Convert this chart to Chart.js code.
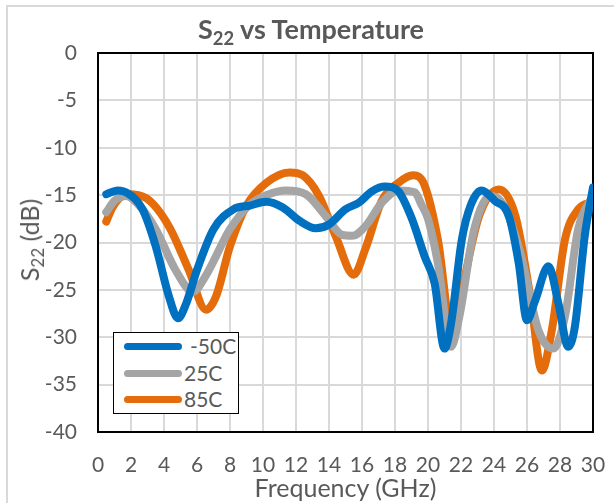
<!DOCTYPE html>
<html>
<head>
<meta charset="utf-8">
<script src="https://cdn.jsdelivr.net/npm/chart.js@4.4.1/dist/chart.umd.min.js"></script>
<style>
  html, body { margin: 0; padding: 0; background: #fff; overflow: hidden; }
  #wrap { position: relative; width: 614px; height: 503px; overflow: hidden; font-family: Lato, "Open Sans", sans-serif; color: #595959; }
  #frame { position: absolute; left: 6px; top: 5px; width: 800px; height: 800px; border: 2px solid #D9D9D9; box-sizing: border-box; }
  canvas { position: absolute; left: 0; top: 0; }
  #title { position: absolute; left: 4px; width: 614px; top: 13px; text-align: center; font-weight: bold; font-size: 27px; line-height: 32px; }
  #title sub, #ytitle sub { font-size: 0.68em; vertical-align: -0.3em; line-height: 0; }
  #xtitle { position: absolute; left: 98px; width: 495px; top: 473px; text-align: center; font-size: 25px; line-height: 28px; }
  #ytitle { position: absolute; left: 29px; top: 240px; transform: translate(-50%, -50%) rotate(-90deg); white-space: nowrap; font-size: 25px; line-height: 28px; }
  #legend { position: absolute; left: 113px; top: 332px; width: 126px; height: 82px; border: 1.5px solid #000; box-sizing: border-box; background: #fff; }
  .item { position: absolute; left: 0; height: 26px; width: 124px; }
  .swatch { position: absolute; left: 10px; top: 10px; width: 58px; height: 7px; border-radius: 4px; }
  .lab { position: absolute; top: 0; font-size: 21px; line-height: 26px; }
</style>
</head>
<body>
<div id="wrap">
  <div id="frame"></div>
  <canvas id="c" width="614" height="503"></canvas>
  <div id="title">S<sub>22</sub> vs Temperature</div>
  <div id="ytitle">S<sub>22</sub> (dB)</div>
  <div id="xtitle">Frequency (GHz)</div>
  <div id="legend"></div>
</div>
<script>
// ---- data ----
const seriesNames = ["-50C", "25C", "85C"];
const seriesColors = ["#0070C0", "#A5A5A5", "#E46C0A"];

const freqM50 = [0.5, 1.2, 1.8, 2.7, 3.5, 4.3, 4.85, 5.35, 6.0, 7.0, 8.2, 9.2, 10.2, 11.2, 12.2, 13.2, 14.0, 15.0, 15.8, 16.6, 17.4, 18.2, 19.0, 19.8, 20.4, 21.0, 21.4, 22.05, 22.6, 23.25, 24.05, 24.9, 25.5, 26.0, 26.5, 27.3, 27.9, 28.5, 28.9, 29.5, 30.0];
const s22M50  = [-14.9, -14.5, -14.8, -16.5, -20.4, -25.7, -28.0, -26.4, -22.9, -18.6, -16.5, -16.1, -15.7, -16.3, -17.7, -18.5, -18.1, -16.5, -15.8, -14.6, -14.1, -14.6, -17.4, -21.5, -24.3, -31.2, -28.5, -19.7, -16.0, -14.5, -15.6, -17.2, -22.2, -28.2, -26.1, -22.5, -26.4, -31.0, -28.9, -19.3, -14.2];

const freq25 = [0.5, 1.0, 1.7, 2.6, 3.5, 4.7, 5.75, 6.5, 8.0, 9.2, 10.2, 11.4, 12.6, 13.8, 14.8, 15.4, 16.2, 17.2, 18.2, 19.2, 19.6, 20.0, 20.6, 21.4, 21.9, 22.8, 23.8, 24.6, 25.6, 26.7, 27.6, 28.3, 29.1, 30.0];
const s22At25 = [-16.8, -15.6, -15.1, -16.3, -18.6, -22.9, -25.2, -23.6, -18.6, -16.0, -15.0, -14.5, -14.9, -17.2, -19.2, -19.3, -18.3, -15.8, -14.5, -14.7, -16.0, -17.5, -22.2, -31.0, -27.8, -18.6, -15.1, -16.1, -21.1, -29.3, -31.2, -27.8, -18.6, -15.0];

const freq85 = [0.5, 0.85, 1.3, 1.8, 2.9, 4.3, 5.5, 6.55, 7.15, 8.0, 9.0, 10.2, 11.6, 12.4, 13.4, 14.4, 15.5, 16.2, 17.2, 18.2, 19.1, 19.8, 20.6, 21.5, 22.2, 23.1, 24.3, 25.3, 26.2, 26.9, 27.5, 28.3, 29.1, 30.0];
const s22At85 = [-17.8, -16.4, -15.3, -14.9, -15.3, -18.3, -22.9, -27.1, -25.7, -20.4, -16.1, -13.7, -12.6, -12.9, -15.1, -19.3, -23.4, -20.7, -15.6, -13.7, -12.9, -14.0, -19.7, -30.0, -23.9, -17.2, -14.4, -17.2, -25.7, -33.5, -29.3, -19.7, -16.5, -15.7];

const xTicks = [0, 2, 4, 6, 8, 10, 12, 14, 16, 18, 20, 22, 24, 26, 28, 30];
const yTicks = [0, -5, -10, -15, -20, -25, -30, -35, -40];

// ---- build chart ----
const freqs = [freqM50, freq25, freq85];
const vals = [s22M50, s22At25, s22At85];
const datasets = seriesNames.map((name, i) => ({
  label: name,
  data: freqs[i].map((f, k) => ({ x: f, y: vals[i][k] })),
  borderColor: seriesColors[i],
  backgroundColor: seriesColors[i],
  borderWidth: 8,
  pointRadius: 0,
  cubicInterpolationMode: 'monotone',
  borderCapStyle: 'round',
  borderJoinStyle: 'round',
  fill: false
}));

const frameBorder = {
  id: 'frameBorder',
  beforeDatasetsDraw(chart) {
    const a = chart.chartArea, ctx = chart.ctx;
    ctx.save();
    ctx.strokeStyle = '#000';
    ctx.lineWidth = 2;
    ctx.strokeRect(a.left, a.top, a.right - a.left, a.bottom - a.top);
    ctx.restore();
  }
};

const tickFont = { family: 'Lato', size: 21 };

new Chart(document.getElementById('c'), {
  type: 'line',
  data: { datasets },
  options: {
    responsive: false,
    animation: false,
    layout: { padding: { left: 0, top: 53, right: 21, bottom: 0 } },
    plugins: { legend: { display: false }, title: { display: false }, tooltip: { enabled: false } },
    scales: {
      x: {
        type: 'linear', min: 0, max: 30,
        afterBuildTicks: s => { s.ticks = xTicks.map(v => ({ value: v })); },
        afterFit: s => { s.height = 71; s.paddingLeft = 0; s.paddingRight = 0; },
        grid: { color: '#D9D9D9', lineWidth: 2, drawTicks: false },
        border: { display: false },
        ticks: { color: '#595959', font: tickFont, padding: 21, maxRotation: 0, autoSkip: false }
      },
      y: {
        type: 'linear', min: -40, max: 0,
        afterBuildTicks: s => { s.ticks = yTicks.slice().reverse().map(v => ({ value: v })); },
        afterFit: s => { s.width = 98; s.paddingTop = 0; s.paddingBottom = 0; },
        grid: { color: '#D9D9D9', lineWidth: 2, drawTicks: false },
        border: { display: false },
        ticks: { color: '#595959', font: tickFont, padding: 21 }
      }
    }
  },
  plugins: [frameBorder]
});

// ---- legend from the series arrays ----
const leg = document.getElementById('legend');
seriesNames.forEach((name, i) => {
  const it = document.createElement('div');
  it.className = 'item';
  it.style.top = (i * 26.5) + 'px';
  const sw = document.createElement('div');
  sw.className = 'swatch';
  sw.style.background = seriesColors[i];
  const lb = document.createElement('div');
  lb.className = 'lab';
  lb.textContent = name;
  lb.style.left = (i === 0 ? 76 : 70) + 'px';
  it.appendChild(sw); it.appendChild(lb);
  leg.appendChild(it);
});
</script>
</body>
</html>
